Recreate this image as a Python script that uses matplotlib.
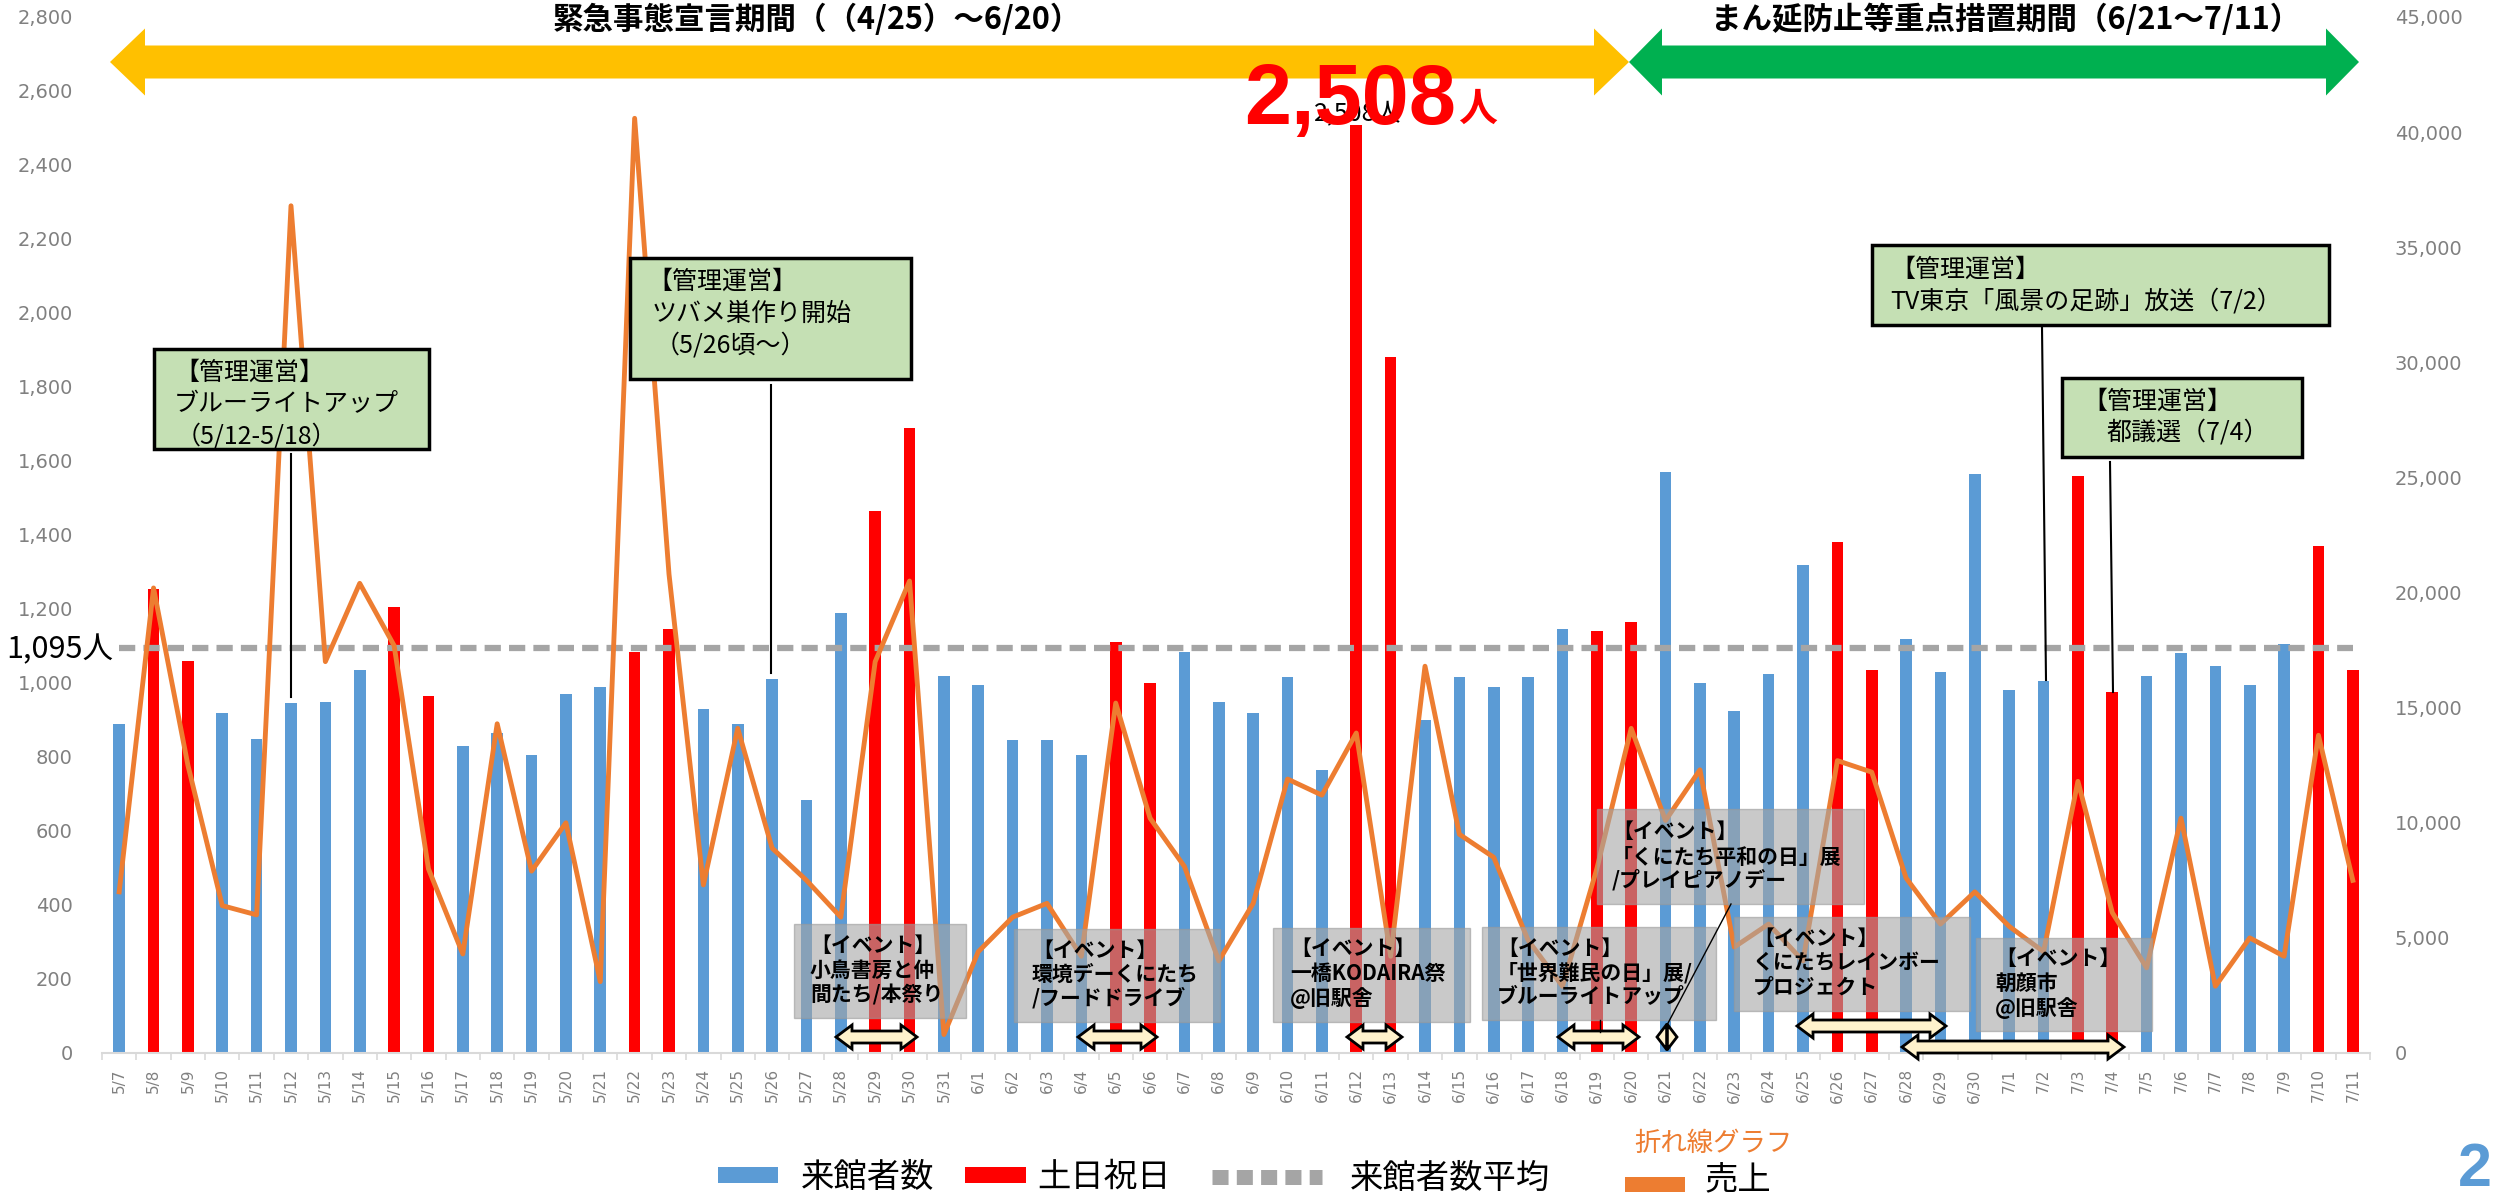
import matplotlib
matplotlib.use("Agg")
import matplotlib.pyplot as plt
import numpy as np
from matplotlib.patches import Rectangle, Polygon
from matplotlib.lines import Line2D
from matplotlib.ticker import MultipleLocator, FuncFormatter

plt.rcParams["font.family"] = ["Noto Sans CJK JP", "DejaVu Sans"]

# ── Data ──────────────────────────────────────────────────────────────────────
days = [
    "5/7", "5/8", "5/9", "5/10", "5/11", "5/12", "5/13", "5/14", "5/15", "5/16",
    "5/17", "5/18", "5/19", "5/20", "5/21", "5/22", "5/23", "5/24", "5/25", "5/26",
    "5/27", "5/28", "5/29", "5/30", "5/31", "6/1", "6/2", "6/3", "6/4", "6/5",
    "6/6", "6/7", "6/8", "6/9", "6/10", "6/11", "6/12", "6/13", "6/14", "6/15",
    "6/16", "6/17", "6/18", "6/19", "6/20", "6/21", "6/22", "6/23", "6/24", "6/25",
    "6/26", "6/27", "6/28", "6/29", "6/30", "7/1", "7/2", "7/3", "7/4", "7/5",
    "7/6", "7/7", "7/8", "7/9", "7/10", "7/11",
]
visitors = [
    890, 1255, 1060, 920, 850, 945, 950, 1035, 1205, 965,
    830, 865, 805, 970, 990, 1085, 1145, 930, 890, 1010,
    685, 1190, 1465, 1690, 1020, 995, 845, 845, 805, 1110,
    1000, 1085, 950, 920, 1015, 765, 2508, 1880, 900, 1015,
    990, 1015, 1145, 1140, 1165, 1570, 1000, 925, 1025, 1320,
    1380, 1035, 1120, 1030, 1565, 980, 1005, 1560, 975, 1020,
    1080, 1045, 995, 1105, 1370, 1035,
]
sales = [
    7000, 20200, 12500, 6400, 6000, 36800, 17000, 20400, 17700, 8000,
    4300, 14300, 7900, 10000, 3100, 40600, 20800, 7300, 14100, 8900,
    7500, 5900, 17000, 20500, 800, 4400, 5900, 6500, 4200, 15200,
    10200, 8100, 4000, 6500, 11900, 11200, 13900, 4200, 16800, 9500,
    8500, 4900, 2900, 8000, 14100, 10100, 12300, 4600, 5600, 4000,
    12700, 12200, 7600, 5600, 7000, 5500, 4400, 11800, 6100, 3700,
    10200, 2900, 5000, 4200, 13800, 7500,
]
holidays = [
    "5/8", "5/9", "5/15", "5/16", "5/22", "5/23", "5/29", "5/30", "6/5", "6/6",
    "6/12", "6/13", "6/19", "6/20", "6/26", "6/27", "7/3", "7/4", "7/10", "7/11",
]
avg_visitors = 1095

# ── Figure helpers (pixel positions of annotations, origin top-left) ─────────
W, H = 2501, 1199
fig = plt.figure(figsize=(W / 100, H / 100), dpi=100)


def fx(px):
    return px / W


def fy(py):
    return 1 - py / H


def add_rect(x0, y0, x1, y1, **kw):
    fig.add_artist(Rectangle((fx(x0), fy(y1)), (x1 - x0) / W, (y1 - y0) / H,
                             transform=fig.transFigure, **kw))


def add_line(x0, y0, x1, y1, **kw):
    fig.add_artist(Line2D([fx(x0), fx(x1)], [fy(y0), fy(y1)],
                          transform=fig.transFigure, **kw))


def double_arrow(x0, x1, yc, body, head, hlen, **kw):
    pts = [(x0, yc), (x0 + hlen, yc - head), (x0 + hlen, yc - body),
           (x1 - hlen, yc - body), (x1 - hlen, yc - head), (x1, yc),
           (x1 - hlen, yc + head), (x1 - hlen, yc + body),
           (x0 + hlen, yc + body), (x0 + hlen, yc + head)]
    fig.add_artist(Polygon([(fx(a), fy(b)) for a, b in pts], closed=True,
                           transform=fig.transFigure, **kw))


# ── Bars + lines ─────────────────────────────────────────────────────────────
ax = fig.add_axes([102 / W, 1 - 1053 / H, 2268 / W, 1036 / H])
ax2 = ax.twinx()

x = np.arange(len(days))
vis = np.array(visitors, dtype=float)
is_hol = np.array([d in holidays for d in days])

ax.bar(x[~is_hol], vis[~is_hol], width=0.34, color="#5B9BD5", zorder=2)
ax.bar(x[is_hol], vis[is_hol], width=0.34, color="#FF0000", zorder=2)
ax.plot(x, [avg_visitors] * len(x), color="#A5A5A5", lw=4.5,
        dashes=(2.6, 1.3), zorder=3)
ax2.plot(x, sales, color="#ED7D31", lw=3.5, zorder=4)

ax.set_xlim(-0.5, len(days) - 0.5)
ax.set_ylim(0, 2800)
ax2.set_ylim(0, 45000)

ax.yaxis.set_major_locator(MultipleLocator(200))
ax2.yaxis.set_major_locator(MultipleLocator(5000))
fmt = FuncFormatter(lambda v, p: f"{int(v):,}")
ax.yaxis.set_major_formatter(fmt)
ax2.yaxis.set_major_formatter(fmt)

ax.set_xticks(x)
ax.set_xticklabels(days, rotation=90, fontfamily="DejaVu Sans")
ax.set_xticks(np.arange(-0.5, len(days)), minor=True)
ax.tick_params(axis="x", which="major", length=0, pad=11, labelsize=11,
               labelcolor="#808080")
ax.tick_params(axis="x", which="minor", length=5, width=1.2, color="#D9D9D9")
ax.tick_params(axis="y", length=0, pad=21, labelsize=14, labelcolor="#808080")
ax2.tick_params(axis="y", length=0, pad=18, labelsize=14, labelcolor="#808080")
for lbl in ax.get_yticklabels() + ax2.get_yticklabels():
    lbl.set_fontfamily("DejaVu Sans")

for a in (ax, ax2):
    for s in ("top", "left", "right"):
        a.spines[s].set_visible(False)
ax2.spines["bottom"].set_visible(False)
ax.spines["bottom"].set_color("#D9D9D9")
ax.spines["bottom"].set_linewidth(1.5)

# ── Period banners ───────────────────────────────────────────────────────────
double_arrow(110, 1629, 62, 16.5, 33.5, 35, facecolor="#FFC000", edgecolor="none", zorder=2)
double_arrow(1629, 2359, 62, 16.5, 33.5, 33, facecolor="#00B050", edgecolor="none", zorder=2)
fig.text(fx(817), fy(20), "緊急事態宣言期間（（4/25）～6/20）", fontsize=22,
         fontweight="bold", ha="center", va="center", zorder=3)
fig.text(fx(2006), fy(20), "まん延防止等重点措置期間（6/21～7/11）", fontsize=22,
         fontweight="bold", ha="center", va="center", zorder=3)

# peak label (small data label sits behind the big red one, as in the source)
fig.text(fx(1314), fy(113), "2,508人", fontsize=18, ha="left", va="center", zorder=6)
fig.text(fx(1244), fy(124), "2,508", fontsize=61, fontweight="bold",
         fontfamily="Liberation Sans", color="#FF0000", ha="left", va="baseline", zorder=8)
fig.text(fx(1458), fy(121), "人", fontsize=28, fontweight="bold",
         color="#FF0000", ha="left", va="baseline", zorder=8)

# average label
fig.text(fx(6), fy(650), "1,095人", fontsize=22, ha="left", va="center", zorder=8)

# ── 管理運営 boxes ───────────────────────────────────────────────────────────
mgmt_boxes = [
    ((154, 349, 429, 449), [("【管理運営】", 174, 373), ("ブルーライトアップ", 174, 404),
                            ("（5/12-5/18）", 176, 436)], (291, 454, 291, 697)),
    ((630, 258, 911, 379), [("【管理運営】", 647, 282), ("ツバメ巣作り開始", 652, 314),
                            ("（5/26頃～）", 655, 346)], (771, 385, 771, 673)),
    ((1872, 245, 2329, 325), [("【管理運営】", 1890, 270),
                              ("TV東京「風景の足跡」放送（7/2）", 1890, 302)], (2042, 327, 2046, 680)),
    ((2062, 378, 2302, 457), [("【管理運営】", 2082, 402), ("都議選（7/4）", 2106, 433)],
     (2110, 462, 2113, 692)),
]
for (x0, y0, x1, y1), lines, leader in mgmt_boxes:
    add_rect(x0, y0, x1, y1, facecolor="#C5E0B4", edgecolor="black", lw=2.5, zorder=6)
    for s, tx, ty in lines:
        fig.text(fx(tx), fy(ty), s, fontsize=18, ha="left", va="center", zorder=7)
    add_line(*leader, color="black", lw=1.5, zorder=6)

# ── イベント boxes ───────────────────────────────────────────────────────────
event_boxes = [
    ((794, 924, 966, 1018), ["【イベント】", "小鳥書房と仲", "間たち/本祭り"], 810, (945, 970, 995)),
    ((1014, 929, 1220, 1022), ["【イベント】", "環境デーくにたち", "/フードドライブ"], 1032, (950, 974, 998)),
    ((1273, 928, 1470, 1022), ["【イベント】", "一橋KODAIRA祭", "@旧駅舎"], 1290, (948, 973, 998)),
    ((1482, 927, 1716, 1020), ["【イベント】", "「世界難民の日」展/", "ブルーライトアップ"], 1497, (948, 973, 997)),
    ((1597, 809, 1864, 904), ["【イベント】", "「くにたち平和の日」展", "/プレイピアノデー"], 1612, (831, 857, 880)),
    ((1734, 917, 1970, 1011), ["【イベント】", "くにたちレインボー", "プロジェクト"], 1753, (938, 963, 987)),
    ((1976, 938, 2152, 1031), ["【イベント】", "朝顔市", "@旧駅舎"], 1995, (958, 983, 1008)),
]
for (x0, y0, x1, y1), lines, tx, tys in event_boxes:
    add_rect(x0, y0, x1, y1, facecolor="#A6A6A6", alpha=0.6, edgecolor="#9A9A9A",
             lw=1, zorder=5)
    for s, ty in zip(lines, tys):
        fig.text(fx(tx), fy(ty), s, fontsize=15, fontweight="bold", ha="left",
                 va="center", zorder=6)

event_arrows = [(836, 917, 1037), (1078, 1157, 1037), (1347, 1402, 1037),
                (1558, 1639, 1037), (1797, 1946, 1026), (1902, 2124, 1047)]
for a0, a1, ay in event_arrows:
    double_arrow(a0, a1, ay, 6, 12, 16, facecolor="#FFF2CC", edgecolor="black",
                 lw=2, zorder=7)
double_arrow(1657, 1677, 1037, 0, 13, 10, facecolor="#FFF2CC", edgecolor="black",
             lw=2, zorder=7)
add_line(1731, 904, 1667, 1025, color="black", lw=1, zorder=7)
add_line(1600, 1020, 1600, 1032, color="black", lw=1, zorder=7)

# ── Legend (hand placed) ─────────────────────────────────────────────────────
add_rect(718, 1167, 778, 1183, facecolor="#5B9BD5", edgecolor="none", zorder=5)
fig.text(fx(801), fy(1177), "来館者数", fontsize=24, ha="left", va="center")
add_rect(965, 1167, 1026, 1183, facecolor="#FF0000", edgecolor="none", zorder=5)
fig.text(fx(1037), fy(1177), "土日祝日", fontsize=24, ha="left", va="center")
add_line(1212, 1177, 1322, 1177, color="#A5A5A5", lw=10.8, dashes=(1.07, 0.55), zorder=5)
fig.text(fx(1350), fy(1178), "来館者数平均", fontsize=24, ha="left", va="center")
add_rect(1625, 1177, 1685, 1192, facecolor="#ED7D31", edgecolor="none", zorder=5)
fig.text(fx(1705), fy(1181), "売上", fontsize=24, ha="left", va="center")
fig.text(fx(1713), fy(1143), "折れ線グラフ", fontsize=19, color="#ED7D31",
         ha="center", va="center")

fig.text(fx(2475), fy(1170), "2", fontsize=44, fontweight="bold",
         fontfamily="Liberation Sans", color="#5B9BD5", ha="center", va="center")

fig.savefig("out.png", dpi=100)
